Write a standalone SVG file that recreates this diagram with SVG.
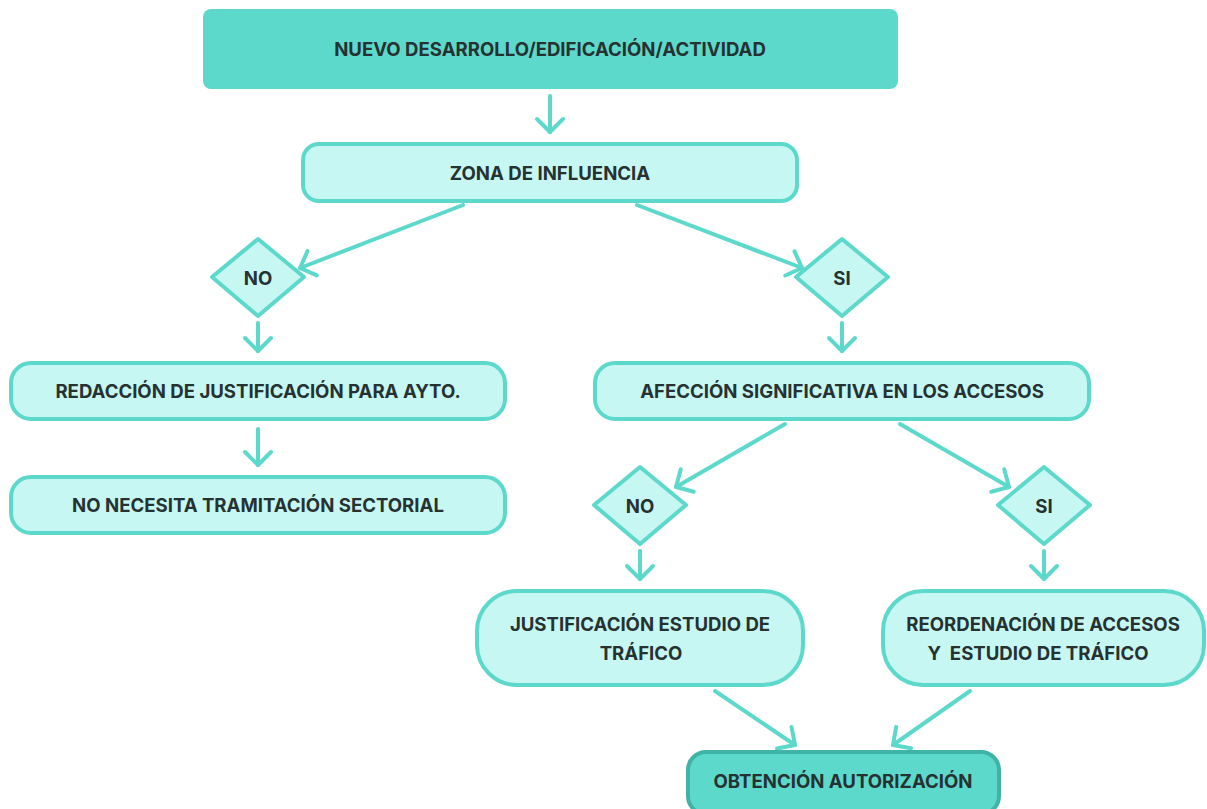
<svg xmlns="http://www.w3.org/2000/svg" width="1207" height="809" viewBox="0 0 1207 809">
<style>
.box{fill:#c6f7f2;stroke:#5dd9cb;stroke-width:4}
.dark{fill:#5dd9cb}
.dia{fill:#c6f7f2;stroke:#5dd9cb;stroke-width:4;stroke-linejoin:round}
.t{font-family:Inter,"Liberation Sans",sans-serif;font-weight:700;font-size:18.6px;fill:#263232;text-anchor:middle;dominant-baseline:central}
.c{stroke:#5dd9cb;stroke-width:4;fill:none;stroke-linecap:round}
</style>
<defs>
<marker id="ah" markerUnits="userSpaceOnUse" markerWidth="40" markerHeight="40" viewBox="-20 -20 40 40" refX="0" refY="0" orient="auto" overflow="visible">
<path d="M-13,-13 L0,0 L-13,13" fill="none" stroke="#5dd9cb" stroke-width="4" stroke-linecap="round" stroke-linejoin="round"/>
</marker>
</defs>
<rect width="1207" height="809" fill="#ffffff"/>
<g id="connectors">
<path class="c" d="M550,96 L550,132" marker-end="url(#ah)"/>
<path class="c" d="M463,205 L300,268" marker-end="url(#ah)"/>
<path class="c" d="M637,205 L802,268" marker-end="url(#ah)"/>
<path class="c" d="M258,323 L258,351" marker-end="url(#ah)"/>
<path class="c" d="M842,323 L842,351" marker-end="url(#ah)"/>
<path class="c" d="M258,429 L258,465" marker-end="url(#ah)"/>
<path class="c" d="M785,424 L676,487" marker-end="url(#ah)"/>
<path class="c" d="M900,424 L1009,487" marker-end="url(#ah)"/>
<path class="c" d="M640,551 L640,579" marker-end="url(#ah)"/>
<path class="c" d="M1044,551 L1044,579" marker-end="url(#ah)"/>
<path class="c" d="M715,691 L795,745" marker-end="url(#ah)"/>
<path class="c" d="M970,691 L893,745" marker-end="url(#ah)"/>
</g>
<g id="n1"><rect class="dark" x="203" y="9" width="695" height="80" rx="8"/><text class="t" x="550" y="49">NUEVO DESARROLLO/EDIFICACIÓN/ACTIVIDAD</text></g>
<g id="n2"><rect class="box" x="303" y="144" width="494" height="57" rx="16"/><text class="t" x="550" y="173">ZONA DE INFLUENCIA</text></g>
<g id="n3"><polygon class="dia" points="258,239 304,277 258,316 212,277"/><text class="t" x="258" y="278">NO</text></g>
<g id="n4"><polygon class="dia" points="842,239 888,277 842,316 796,277"/><text class="t" x="842" y="278">SI</text></g>
<g id="n5"><rect class="box" x="11" y="363" width="494" height="56" rx="20"/><text class="t" x="258" y="391">REDACCIÓN DE JUSTIFICACIÓN PARA AYTO.</text></g>
<g id="n6"><rect class="box" x="11" y="477" width="494" height="56" rx="20"/><text class="t" x="258" y="505">NO NECESITA TRAMITACIÓN SECTORIAL</text></g>
<g id="n7"><rect class="box" x="595" y="363" width="494" height="56" rx="20"/><text class="t" x="842" y="391">AFECCIÓN SIGNIFICATIVA EN LOS ACCESOS</text></g>
<g id="n8"><polygon class="dia" points="640,467 686,505 640,544 594,505"/><text class="t" x="640" y="506">NO</text></g>
<g id="n9"><polygon class="dia" points="1044,467 1090,505 1044,544 998,505"/><text class="t" x="1044" y="506">SI</text></g>
<g id="n10"><rect class="box" x="477" y="591" width="326" height="94" rx="40"/><text class="t" x="640" y="624">JUSTIFICACIÓN ESTUDIO DE</text><text class="t" x="641" y="653">TRÁFICO</text></g>
<g id="n11"><rect class="box" x="883" y="591" width="321" height="94" rx="40"/><text class="t" x="1043" y="624">REORDENACIÓN DE ACCESOS</text><text class="t" x="1038" y="653" xml:space="preserve">Y  ESTUDIO DE TRÁFICO</text></g>
<g id="n12"><rect x="688" y="752" width="311" height="62" rx="18" fill="#5dd9cb" stroke="#3fb3a6" stroke-width="4"/><text class="t" x="843" y="781">OBTENCIÓN AUTORIZACIÓN</text></g>
</svg>
